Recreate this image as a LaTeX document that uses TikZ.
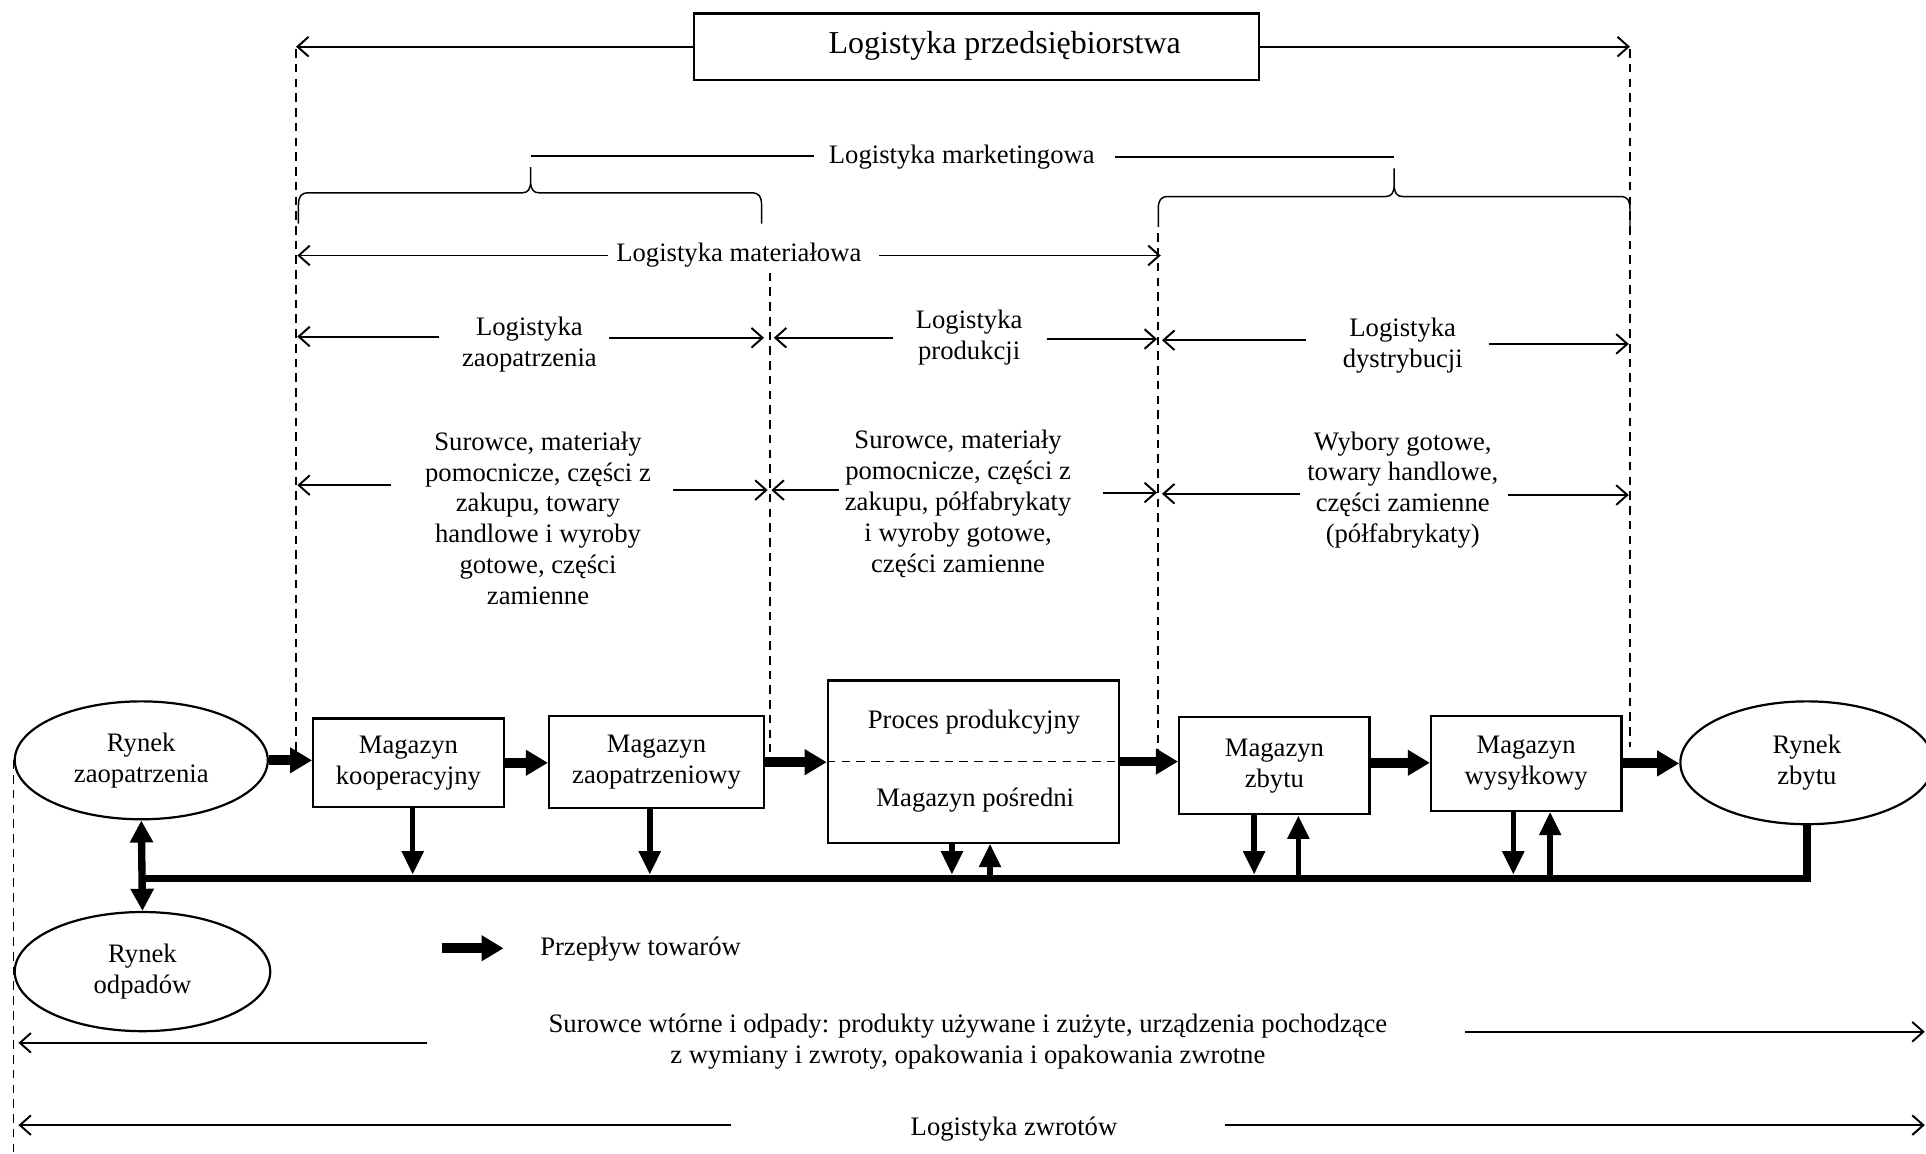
\documentclass[tikz,border=0pt]{standalone}
\usepackage{fontspec}
\setmainfont{Liberation Serif}
\usetikzlibrary{arrows.meta,shapes.geometric}
\begin{document}
\begin{tikzpicture}[x=1pt,y=-1pt,
  every node/.style={font=\fontsize{21.7pt}{25.2pt}\selectfont, inner sep=0pt, align=center},
  headline/.style={draw, line width=1.8pt, minimum width=460pt, minimum height=54pt},
  store/.style={draw, line width=1.8pt, rectangle},
  market/.style={draw, line width=1.8pt, ellipse, minimum width=206pt, minimum height=96pt},
  guide/.style={line width=1.4pt, dash pattern=on 7pt off 5pt},
  span/.style={line width=1.6pt, -{Straight Barb[length=9pt,width=16pt,line width=1.6pt]}},
  brace/.style={line width=1.2pt},
  flow/.style={line width=8pt, -{Triangle[length=18pt,width=20pt]}},
  drop/.style={line width=4.5pt, -{Triangle[length=19pt,width=17pt]}, shorten >=3pt},
  rise/.style={line width=4.5pt, -{Triangle[length=19pt,width=17pt]}},
  both/.style={line width=6pt, {Triangle[length=18pt,width=18pt]}-{Triangle[length=18pt,width=18pt]}},
  bus/.style={line width=6pt, line join=miter}
]
\useasboundingbox (0,0) rectangle (1568,939);
\clip (0,0) rectangle (1568,939);

% ---------- headline and span arrows ----------
\node[headline] (top) at (795,38) {};
\node[font=\fontsize{26pt}{30pt}\selectfont] (topT) at (818,37) {Logistyka przedsiębiorstwa};
\coordinate (gA) at (241,40);
\coordinate (gD) at (1327,40);
\draw[span] (top.west) -- (top.west -| gA);
\draw[span] (top.east) -- (top.east -| gD);

% ---------- marketing logistics with braces ----------
\node (lmk) at (783,128) {Logistyka marketingowa};
\draw[brace] (432,127) -- (663,127);
\draw[brace] (908,128) -- (1135,128);
\draw[brace] (243,182) -- (243,167) .. controls (243,160) and (245,157) .. (251,157)
  -- (425,157) .. controls (430,157) and (432,154) .. (432,147) -- (432,136)
  -- (432,147) .. controls (432,154) and (434,157) .. (439,157)
  -- (612,157) .. controls (618,157) and (620,160) .. (620,167) -- (620,182);
\draw[brace] (943,185) -- (943,170) .. controls (943,163) and (945,160) .. (951,160)
  -- (1128,160) .. controls (1133,160) and (1135,157) .. (1135,150) -- (1135,137)
  -- (1135,150) .. controls (1135,157) and (1137,160) .. (1142,160)
  -- (1319,160) .. controls (1325,160) and (1327,163) .. (1327,170) -- (1327,185);

% ---------- material logistics ----------
\node (lmat) at (601.5,208) {Logistyka materiałowa};
\draw[span] (495,208) -- (242,208);
\draw[span] (716,208) -- (945,208);

% ---------- sub-areas ----------
\node (lzap) at (431,280.5) {Logistyka\\zaopatrzenia};
\draw[span] (357,274) -- (242,274);
\draw[span] (496,275) -- (622,275);

\node (lprod) at (789,275) {Logistyka\\produkcji};
\draw[span] (727,275) -- (630,275);
\draw[span] (852,276) -- (942,276);

\node (ldys) at (1142,281.5) {Logistyka\\dystrybucji};
\draw[span] (1063,277) -- (946,277);
\draw[span] (1212,280) -- (1326,280);

% ---------- goods handled in each area ----------
\node (gz) at (438,422) {Surowce, materiały\\pomocnicze, części z\\zakupu, towary\\handlowe i wyroby\\gotowe, części\\zamienne};
\draw[span] (318,395) -- (242,395);
\draw[span] (548,399) -- (625,399);

\node (gp) at (780,410) {Surowce, materiały\\pomocnicze, części z\\zakupu, półfabrykaty\\i wyroby gotowe,\\części zamienne};
\draw[span] (683,399) -- (628,399);
\draw[span] (898,401) -- (942,401);

\node (gd) at (1142,399) {Wybory gotowe,\\towary handlowe,\\części zamienne\\(półfabrykaty)};
\draw[span] (1058,402) -- (946,402);
\draw[span] (1228,403) -- (1326,403);

% ---------- dashed boundaries ----------
\draw[guide] (gA) -- (241,611);
\draw[guide] (627,222) -- (627,612);
\draw[guide] (943,190) -- (943,612);
\draw[guide] (gD) -- (1327,608);

% ---------- flow of goods ----------
\node[market] (rz) at (115,619) {Rynek\\zaopatrzenia};
\node[store, minimum width=155pt, minimum height=72pt] (mk) at (332.5,621) {Magazyn\\kooperacyjny};
\node[store, minimum width=175pt, minimum height=75pt] (mzp) at (534.5,620.5) {Magazyn\\zaopatrzeniowy};
\node[store, minimum width=237pt, minimum height=132pt] (proc) at (792.5,620) {};
\node (procA) at (793,588) {Proces produkcyjny};
\node (procB) at (794,651) {Magazyn pośredni};
\draw[guide] (proc.west) -- (proc.east);
\node[store, minimum width=155pt, minimum height=79pt] (mzb) at (1037.5,623.5) {Magazyn\\zbytu};
\node[store, minimum width=155pt, minimum height=77pt] (mw) at (1242.5,621.5) {Magazyn\\wysyłkowy};
\node[market, minimum height=100pt] (rzb) at (1471,621) {Rynek\\zbytu};
\node[market, minimum width=208pt, minimum height=97pt] (ro) at (116,791) {Rynek\\odpadów};

\draw[flow] (rz.east) -- (rz.east -| mk.west);
\draw[flow] (mk.east) -- (mk.east -| mzp.west);
\draw[flow] (mzp.east) -- (mzp.east -| proc.west);
\draw[flow] (proc.east) -- (proc.east -| mzb.west);
\draw[flow] ([yshift=2.5pt]mzb.east) -- ([yshift=2.5pt]mzb.east -| mw.west);
\draw[flow] (mw.east) -- (mw.east -| rzb.west);

% ---------- return bus ----------
\coordinate (busL) at (115,715);
\draw[bus] (busL) -- (busL -| rzb.south) -- (rzb.south);
\draw[both] (rz.south) -- (ro.north);

\draw[drop] ([xshift=3.5pt]mk.south) -- ([xshift=3.5pt]mk.south |- busL);
\draw[drop] ([xshift=-5.5pt]mzp.south) -- ([xshift=-5.5pt]mzp.south |- busL);
\draw[drop] ([xshift=-17.5pt]proc.south) -- ([xshift=-17.5pt]proc.south |- busL);
\draw[rise] ([xshift=13.5pt]proc.south |- busL) -- ([xshift=13.5pt]proc.south);
\draw[drop] ([xshift=-16.5pt]mzb.south) -- ([xshift=-16.5pt]mzb.south |- busL);
\draw[rise] ([xshift=19.5pt]mzb.south |- busL) -- ([xshift=19.5pt]mzb.south);
\draw[drop] ([xshift=-10.5pt]mw.south) -- ([xshift=-10.5pt]mw.south |- busL);
\draw[rise] ([xshift=19.5pt]mw.south |- busL) -- ([xshift=19.5pt]mw.south);

% ---------- legend ----------
\coordinate (lgA) at (360,772);
\coordinate (lgB) at (410,772);
\draw[flow] (lgA) -- (lgB);
\node (lg) at (521.5,773) {Przepływ towarów};

% ---------- returns logistics ----------
\draw[guide] (rz.west) -- (rz.west |- 0,939);
\node (ret) at (788,848) {Surowce wtórne i odpady: produkty używane i zużyte, urządzenia pochodzące\\z wymiany i zwroty, opakowania i opakowania zwrotne};
\draw[span] (348,849) -- (15,849);
\draw[span] (1193,840) -- (1567,840);
\node (lzw) at (825.5,919) {Logistyka zwrotów};
\draw[span] (595,916) -- (15,916);
\draw[span] (997,916) -- (1567,916);
\end{tikzpicture}
\end{document}
